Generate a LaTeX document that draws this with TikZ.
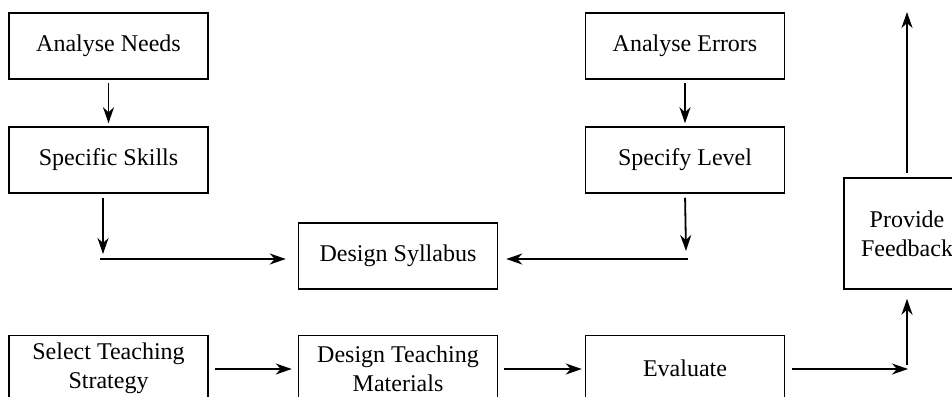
\documentclass[tikz,border=0pt]{standalone}
\usepackage{fontspec}
\setmainfont{Liberation Serif}
\usetikzlibrary{arrows.meta,positioning}
\tikzset{>={Stealth[length=8pt,width=5.5pt,inset=2.5pt]}}
\tikzset{
    box/.style={draw,line width=0.75pt,minimum width=99.5pt,minimum height=33pt,
        align=center,inner sep=2pt,font=\fontsize{12}{14.5}\selectfont},
    link/.style={->,line width=0.9pt}
}

\begin{document}
\begin{tikzpicture}[x=0.5pt,y=-0.5pt]
    \useasboundingbox (0,0) rectangle (952,396);
    \clip (0,0) rectangle (952,396);
    \node[box] at (108.5,46) (needs) {Analyse Needs};
    \node[box] at (108.5,160) (skills) {Specific Skills};
    \node[box] at (685,46) (errors) {Analyse Errors};
    \node[box] at (685,160) (level) {Specify Level};
    \node[box] at (398,256) (syllabus) {Design Syllabus};
    \node[box] at (108.5,368.5) (select) {Select Teaching\\Strategy};
    \node[box] at (398,368.5) (teach) {Design Teaching\\Materials};
    \node[box] at (685,368.5) (evaluate) {Evaluate};
    \node[box,minimum width=63pt,minimum height=55.5pt] at (907,233.5) (feedback) {Provide\\Feedback};
    \coordinate (skillsdrop) at (103,254);
    \coordinate (leftrun) at (100,259);
    \coordinate (leveldrop) at (686,251);
    \coordinate (rightrun) at (688,259);
    \coordinate (corner) at (908,369);
    \coordinate (rise) at (907,365);
    \coordinate (top) at (907,12);
    \path[link]
    (needs) edge [shorten <=1.5pt, shorten >=1.5pt] (skills)
    (errors) edge [shorten <=1.5pt, shorten >=1.5pt] (level)
    ([xshift=-2.75pt]skills.south) edge [shorten <=2pt] (skillsdrop)
    (level.south) edge [shorten <=2pt] (leveldrop)
    (leftrun) edge [shorten >=6pt] (leftrun -| syllabus.west)
    (rightrun) edge [shorten >=4pt] (rightrun -| syllabus.east)
    (select.east |- corner) edge [shorten <=3pt, shorten >=3pt] (teach.west |- corner)
    (teach.east |- corner) edge [shorten <=3pt, shorten >=1.5pt] (evaluate.west |- corner)
    (evaluate.east |- corner) edge [shorten <=3.5pt] (corner)
    (rise) edge [shorten >=4.5pt] (feedback.south)
    (feedback.north) edge [shorten <=2pt] (top)
    ;
\end{tikzpicture}
\end{document}
